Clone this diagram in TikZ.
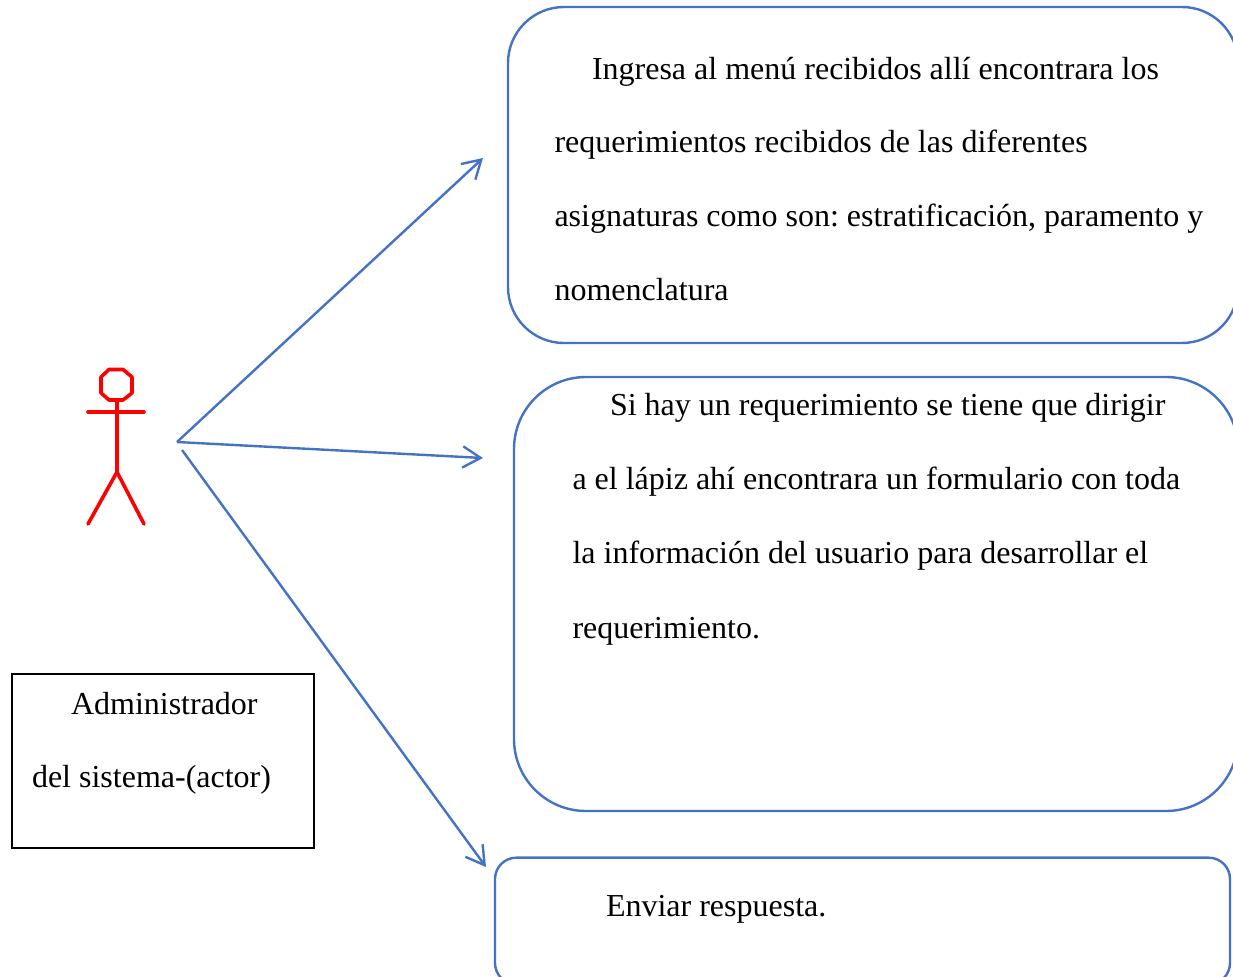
\documentclass[tikz,border=0pt]{standalone}
\usepackage{fontspec}
\setmainfont{Liberation Serif}
\usetikzlibrary{arrows.meta}
\definecolor{boxblue}{HTML}{4472C4}
\tikzset{
 txt/.style={inner sep=0pt,outer sep=0pt,anchor=base west,font=\fontsize{24pt}{29pt}\selectfont\frenchspacing,text=black},
 bubble/.style={draw=boxblue,line width=1.8pt,fill=none,inner sep=0pt,outer sep=0pt},
 link/.style={draw=boxblue,line width=1.8pt,-{Straight Barb[length=13.5pt,width=16pt,line width=1.8pt]}},
 limb/.style={draw=red,line width=2.7pt,line cap=round,line join=round},
}
\begin{document}
\begin{tikzpicture}[x=0.75pt,y=-0.75pt]
\useasboundingbox (0,0) rectangle (1233,976);
\begin{scope}
\clip (0,0) rectangle (1233,976);
\fill[white] (0,0) rectangle (1233,976);
\node[bubble,rectangle,rounded corners=42pt,minimum width=547.5pt,minimum height=252pt] (b1) at (873,175) {};
\node[bubble,rectangle,rounded corners=54pt,minimum width=543pt,minimum height=325.5pt] (b2) at (876,594) {};
\node[bubble,rectangle,rounded corners=16pt,minimum width=551.25pt,minimum height=95pt] (b3) at (862.5,921) {};
\node[draw=black,line width=1.6pt,rectangle,minimum width=226.5pt,minimum height=130.5pt,inner sep=0pt] (actorbox) at (163,761) {};

\node[txt] (t11) at (592,79.6) {Ingresa al menú recibidos allí encontrara los};
\node[txt] (t12) at (554.5,152.6) {requerimientos recibidos de las diferentes};
\node[txt] (t13) at (554.5,226.6) {asignaturas como son: estratificación, paramento y};
\node[txt] (t14) at (554.5,300.6) {nomenclatura};
\node[txt] (t21) at (610,415.6) {Si hay un requerimiento se tiene que dirigir};
\node[txt] (t22) at (572.5,489.6) {a el lápiz ahí encontrara un formulario con toda};
\node[txt] (t23) at (572.5,563.6) {la información del usuario para desarrollar el};
\node[txt] (t24) at (572.5,638.6) {requerimiento.};
\node[txt] (t31) at (606,916.6) {Enviar respuesta.};
\node[txt] (t41) at (71,714.6) {Administrador};
\node[txt] (t42) at (32,787.6) {del sistema-(actor)};

\draw[limb] (109,369.5)--(123,369.5)--(132,377)--(132,393)--(123,400)--(109,400)--(101,393)--(101,377)--cycle;
\draw[limb] (88,412)--(144,412);
\draw[limb] (117,400)--(117,472);
\draw[limb] (88,524)--(117,472)--(144,524);

\coordinate (src1) at (177,442);
\coordinate (src2) at (182,450);
\coordinate (end1) at (483,158);
\coordinate (end2) at (483,458);
\coordinate (end3) at (486,867);
\draw[link] (src1) -- (end1);
\draw[link] (src1) -- (end2);
\draw[link] (src2) -- (end3);
\end{scope}
\end{tikzpicture}
\end{document}
